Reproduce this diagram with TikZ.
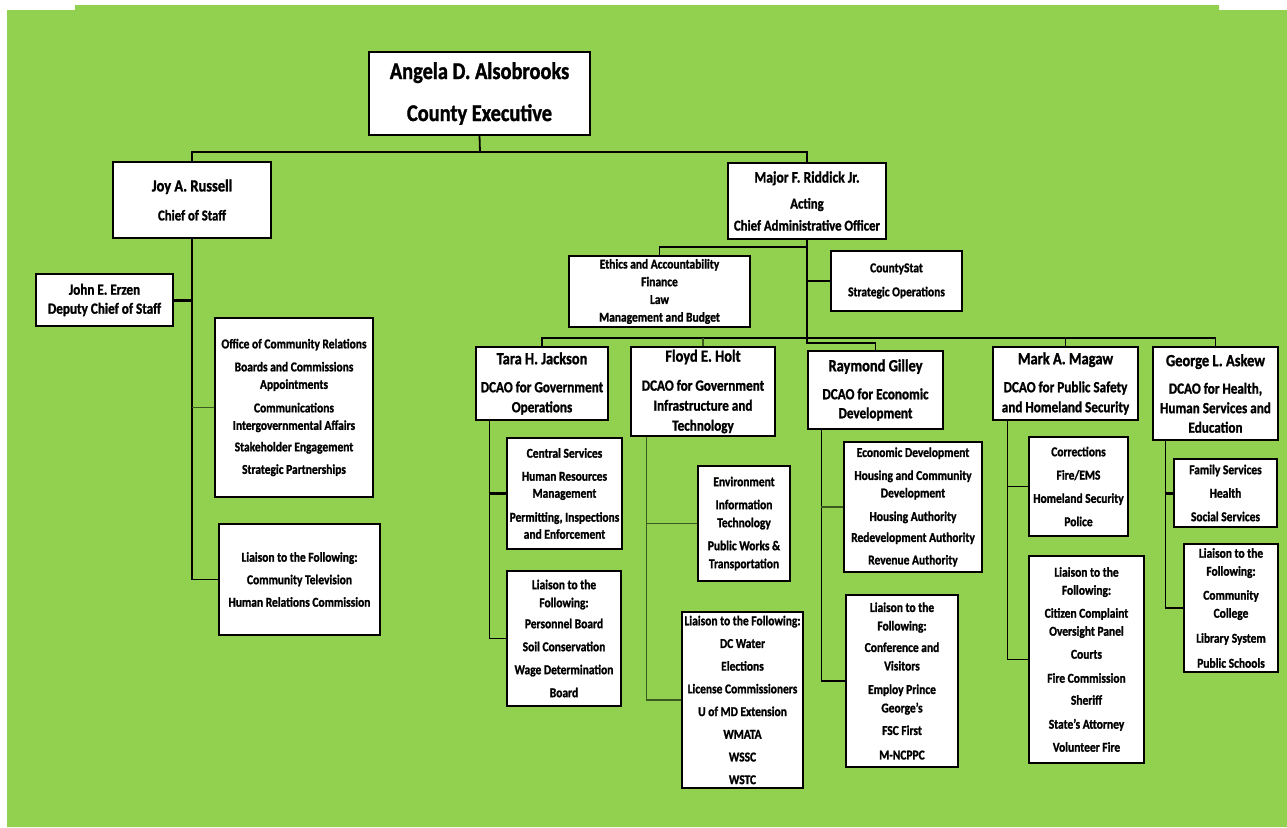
\documentclass[tikz,border=0pt]{standalone}
\usepackage{fontspec}
\setmainfont{Carlito}[FakeStretch=0.85, BoldFeatures={FakeBold=1.3}]
\usetikzlibrary{shadows}
\definecolor{chartgreen}{RGB}{146,208,80}
\definecolor{linkgreen}{RGB}{58,90,32}
\newcommand{\fs}[2]{\fontsize{#1}{#2}\selectfont\bfseries}

\tikzset{
  orgbox/.style={draw, fill=white, line width=1.2pt, align=center, inner sep=0pt,
    drop shadow={shadow xshift=1.4pt, shadow yshift=-1.4pt, fill=black!55, opacity=1}},
  wh/.style 2 args={minimum width=#1pt, minimum height=#2pt},
  link/.style={line width=1.8pt},
  thinlink/.style={draw=linkgreen, line width=1.5pt},
  thicklink/.style={line width=3pt},
}

\begin{document}
\begin{tikzpicture}[x=1pt, y=-1pt]
  \useasboundingbox (0,0) rectangle (1287,827);
  \fill[chartgreen] (7,10) -- (75,10) -- (75,5) -- (1219,5) -- (1219,10) -- (1287,10)
    -- (1287,827) -- (7,827) -- cycle;

  % top levels
  \node[orgbox, wh={221}{83}, font=\fs{24}{42}] (exec) at (479.5,93.5)
    {Angela D. Alsobrooks\\County Executive};
  \node[orgbox, wh={158}{76}, font=\fs{15}{29}] (joy) at (192,200)
    {{\fs{17}{20}Joy A. Russell}\\Chief of Staff};
  \node[orgbox, wh={158}{76}, font=\fs{15}{22}] (cao) at (807,201)
    {{\fs{16}{20}Major F. Riddick Jr.}\\[4pt]Acting\\Chief Administrative Officer};

  % chief of staff
  \node[orgbox, wh={137}{52}, font=\fs{15.5}{19}] (erzen) at (104.5,300)
    {John E. Erzen\\Deputy Chief of Staff};
  \node[orgbox, wh={158}{179}, font=\fs{13.5}{17.5}] (office) at (294,407.5)
    {Office of Community Relations\\[5.5pt]Boards and Commissions\\Appointments\\[6pt]
     Communications\\Intergovernmental Affairs\\[4pt]Stakeholder Engagement\\[5pt]Strategic Partnerships};
  \node[orgbox, wh={161}{111}, font=\fs{13.5}{17.5}] (jliaison) at (299.5,579.5)
    {Liaison to the Following:\\[5pt]Community Television\\[5pt]Human Relations Commission};

  % CAO offices
  \node[orgbox, wh={181}{71}, font=\fs{13.5}{17.7}] (ethics) at (659.5,291.5)
    {Ethics and Accountability\\Finance\\Law\\Management and Budget};
  \node[orgbox, wh={131}{60}, font=\fs{13.5}{17.5}] (cstat) at (896.5,281)
    {CountyStat\\[6.5pt]Strategic Operations};

  % deputies
  \node[orgbox, wh={132}{73}, font=\fs{15.5}{20}] (tara) at (542,383.5)
    {{\fs{17}{20}Tara H. Jackson}\\[8pt]DCAO for Government\\Operations};
  \node[orgbox, wh={144}{89}, font=\fs{15.5}{20}] (floyd) at (703,391.5)
    {{\fs{17}{20}Floyd E. Holt}\\[9pt]DCAO for Government\\Infrastructure and\\Technology};
  \node[orgbox, wh={135}{78}, font=\fs{15.5}{19}] (raymond) at (875.5,390)
    {{\fs{17}{20}Raymond Gilley}\\[9pt]DCAO for Economic\\Development};
  \node[orgbox, wh={145}{73}, font=\fs{15.5}{20}] (magaw) at (1065.5,383.5)
    {{\fs{17}{20}Mark A. Magaw}\\[8pt]DCAO for Public Safety\\and Homeland Security};
  \node[orgbox, wh={125}{93}, font=\fs{15.5}{19.5}] (askew) at (1215.5,393.5)
    {{\fs{17}{20}George L. Askew}\\[8pt]DCAO for Health,\\Human Services and\\Education};

  % departments
  \node[orgbox, wh={115}{111}, font=\fs{13.5}{17}] (central) at (564.5,493.5)
    {Central Services\\[6pt]Human Resources\\Management\\[7pt]Permitting, Inspections\\and Enforcement};
  \node[orgbox, wh={114}{135}, font=\fs{13.5}{18}] (tliaison) at (564,638.5)
    {Liaison to the\\Following:\\[3pt]Personnel Board\\[5pt]Soil Conservation\\[5pt]Wage Determination\\[5pt]Board};
  \node[orgbox, wh={92}{115}, font=\fs{13.5}{18}] (env) at (744,523.5)
    {Environment\\[5pt]Information\\Technology\\[5pt]Public Works \&\\Transportation};
  \node[orgbox, wh={121}{176}, font=\fs{13.5}{22.7}] (fliaison) at (742.5,700)
    {Liaison to the Following:\\DC Water\\Elections\\License Commissioners\\U of MD Extension\\WMATA\\WSSC\\WSTC};
  \node[orgbox, wh={138}{130}, font=\fs{13.5}{17.5}] (econ) at (913,507)
    {Economic Development\\[5.5pt]Housing and Community\\Development\\[6pt]Housing Authority\\[3.5pt]Redevelopment Authority\\[5pt]Revenue Authority};
  \node[orgbox, wh={112}{172}, font=\fs{13.5}{18.5}] (rliaison) at (902,681)
    {Liaison to the\\Following:\\[3pt]Conference and\\Visitors\\[5pt]Employ Prince\\George's\\[4pt]FSC First\\[6pt]M-NCPPC};
  \node[orgbox, wh={99}{99}, font=\fs{13.5}{23.3}] (corr) at (1078.5,486.5)
    {Corrections\\Fire/EMS\\Homeland Security\\Police};
  \node[orgbox, wh={115}{207}, font=\fs{13.5}{18}] (mliaison) at (1086.5,659.5)
    {Liaison to the\\Following:\\[5pt]Citizen Complaint\\Oversight Panel\\[5pt]Courts\\[6pt]Fire Commission\\[4pt]Sheriff\\[6pt]State's Attorney\\[5pt]Volunteer Fire};
  \node[orgbox, wh={103}{68}, font=\fs{13.5}{23.5}] (family) at (1225.5,493)
    {Family Services\\Health\\Social Services};
  \node[orgbox, wh={94}{128}, font=\fs{13.5}{18}] (aliaison) at (1231,608)
    {Liaison to the\\Following:\\[6pt]Community\\College\\[7pt]Library System\\[7pt]Public Schools};

  % connectors
  \coordinate (topbus) at (480,152);
  \coordinate (ethbus) at (807,247);
  \coordinate (dcaobus) at (807,338);
  \draw[link] (exec.south) -- (topbus);
  \draw[link] (joy.north) |- (topbus) -| (cao.north);

  \draw[link] (joy.south) |- (jliaison.west);
  \draw[thicklink] (erzen.east) -- (erzen.east -| joy.south);
  \draw[thinlink] (office.west) -- (office.west -| joy.south);

  \draw[link] (cao.south) -- (dcaobus) -- ++(0,5) -| (raymond.north);
  \draw[link] (ethics.north) |- (ethbus);
  \draw[link] (cstat.west) -- (cstat.west -| cao.south);
  \draw[link] (tara.north) |- (dcaobus) -| (askew.north);
  \draw[thinlink] (floyd.north) -- (floyd.north |- dcaobus);
  \draw[link] (magaw.north) -- (magaw.north |- dcaobus);

  \coordinate (taraspine) at ([xshift=14pt]tara.south west);
  \draw[link] (taraspine) |- (tliaison.west);
  \draw[thicklink] (central.west) -- (central.west -| taraspine);

  \coordinate (floydspine) at ([xshift=16pt]floyd.south west);
  \draw[thinlink] (floydspine) |- (fliaison.west);
  \draw[thinlink] (env.west) -- (env.west -| floydspine);

  \coordinate (rayspine) at ([xshift=14pt]raymond.south west);
  \draw[link] (rayspine) |- (rliaison.west);
  \draw[thinlink] (econ.west) -- (econ.west -| rayspine);

  \coordinate (magawspine) at ([xshift=15pt]magaw.south west);
  \draw[link] (magawspine) |- (mliaison.west);
  \draw[link] (corr.west) -- (corr.west -| magawspine);

  \coordinate (askewspine) at ([xshift=13pt]askew.south west);
  \draw[link] (askewspine) |- (aliaison.west);
  \draw[thicklink] (family.west) -- (family.west -| askewspine);
\end{tikzpicture}
\end{document}
